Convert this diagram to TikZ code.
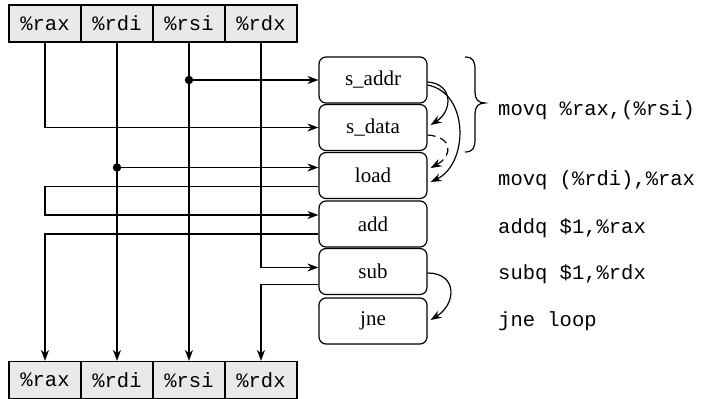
\documentclass[tikz,border=0pt]{standalone}
\usepackage{fontspec}
\setmainfont{Liberation Serif}
\newfontfamily\codefont{Liberation Mono}
\usetikzlibrary{arrows.meta}
\tikzset{
  reg/.style={draw, fill=gray!17, minimum width=72pt, minimum height=37pt, inner sep=0pt,
    font=\codefont\fontsize{20.5}{24}\selectfont, line width=1.2pt},
  op/.style={draw, fill=white, rounded corners=7pt, minimum width=108pt, minimum height=46pt,
    inner sep=0pt, font=\fontsize{21}{25}\selectfont, line width=1.2pt},
  code/.style={anchor=base west, font=\codefont\fontsize{20.5}{24}\selectfont, inner sep=0pt},
  wire/.style={line width=1.2pt},
  arr/.style={wire, -{Stealth[length=11pt,width=8pt]}},
  dot/.style={fill=black}
}
\begin{document}
\begin{tikzpicture}[x=1pt,y=-1pt]
\useasboundingbox (0,0) rectangle (705,399);
% top registers
\node[reg] (trax) at (45,23.5) {\%rax};
\node[reg] (trdi) at (117,23.5) {\%rdi};
\node[reg] (trsi) at (189,23.5) {\%rsi};
\node[reg] (trdx) at (261,23.5) {\%rdx};
% bottom registers
\node[reg] (brax) at (45,380) {\%rax};
\node[reg] (brdi) at (117,380) {\%rdi};
\node[reg] (brsi) at (189,380) {\%rsi};
\node[reg] (brdx) at (261,380) {\%rdx};
% operations
\node[op] (saddr) at (373,80) {s\_addr};
\node[op] (sdata) at (373,127.5) {s\_data};
\node[op] (load) at (373,175.5) {load};
\node[op] (add) at (373,224) {add};
\node[op] (sub) at (373,271.5) {sub};
\node[op] (jne) at (373,321) {jne};
% code
\node[code] (c1) at (498,115) {movq \%rax,(\%rsi)};
\node[code] (c2) at (498,185) {movq (\%rdi),\%rax};
\node[code] (c3) at (498,233) {addq \$1,\%rax};
\node[code] (c4) at (498,279) {subq \$1,\%rdx};
\node[code] (c5) at (498,326) {jne loop};
% brace
\draw[wire] (465,57) .. controls (473,57) and (475,61) .. (475,70) -- (475,92)
  .. controls (475,99) and (478,103) .. (485,103)
  .. controls (478,103) and (475,107) .. (475,114) -- (475,139)
  .. controls (475,148) and (473,152) .. (465,152);
% rsi
\draw[arr] (trsi.south) -- (trsi.south |- brsi.north);
\fill[dot] (trsi.south |- saddr.west) circle (4.2pt);
\draw[arr] (trsi.south |- saddr.west) -- (saddr.west);
% rax -> s_data
\draw[arr] (trax.south) |- (sdata.west);
% rdi
\draw[arr] (trdi.south) -- (trdi.south |- brdi.north);
\coordinate (lin) at ([yshift=8pt]load.west);
\fill[dot] (trdi.south |- lin) circle (4.2pt);
\draw[arr] (trdi.south |- lin) -- (lin);
% load -> add
\coordinate (lout) at ([yshift=-11pt]load.west);
\coordinate (ain) at ([yshift=9pt]add.west);
\draw[arr] (lout) -| (ain -| trax.south) -- (ain);
% add -> rax
\coordinate (aout) at ([yshift=-10pt]add.west);
\draw[arr] (aout) -| (brax.north);
% rdx -> sub
\coordinate (sin) at ([yshift=4pt]sub.west);
\draw[arr] (trdx.south) |- (sin);
% sub -> rdx
\coordinate (sout) at ([yshift=-13pt]sub.west);
\draw[arr] (sout) -| (brdx.north);
% dependency arcs
\draw[arr] ([yshift=-2pt]saddr.east) .. controls +(26,2) and +(22,-14) .. ([xshift=3pt,yshift=2.5pt]sdata.east);
\draw[arr] ([yshift=-5pt]saddr.east) .. controls +(42,8) and +(38,-18) .. ([xshift=3pt,yshift=-6.5pt]load.east);
\draw[arr, dash pattern=on 8pt off 5pt] ([yshift=-7.5pt]sdata.east) .. controls +(26,2) and +(22,-12) .. ([xshift=3pt,yshift=7.5pt]load.east);
\draw[arr] ([yshift=-1.5pt]sub.east) .. controls +(30,0) and +(26,-16) .. ([xshift=3pt,yshift=1pt]jne.east);
\end{tikzpicture}
\end{document}
